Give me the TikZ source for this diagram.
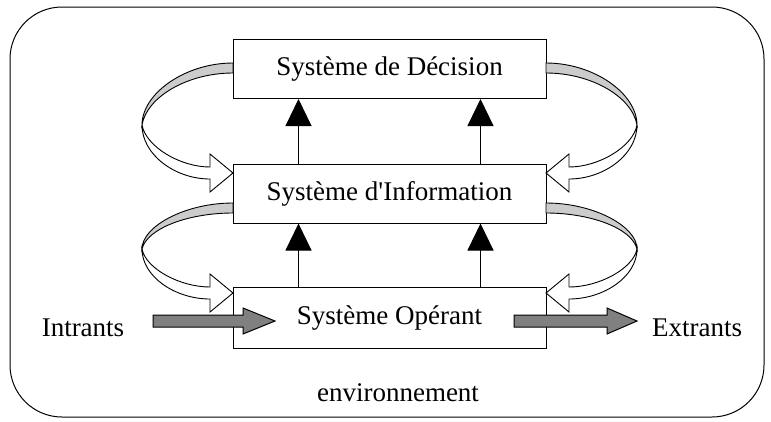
\documentclass[tikz,border=0pt]{standalone}
\usepackage{fontspec}
\setmainfont{Liberation Serif}[Ligatures=TeXOff]
\usetikzlibrary{arrows.meta}
\newcommand\ribbonloop[3]{%
  \draw[line width=0.9pt,fill=gray!40] (233,#1-5) .. controls (185,#1-5) and (142,{#3-0.55*(#3-#1)}) .. (142,#3) .. controls (147,{#3-0.5*(#3-#1)}) and (188,#1+5) .. (233,#1+5) -- cycle;
  \draw[line width=0.9pt,fill=white] (142,#3) .. controls (142,{#3+0.55*(#2+6-#3)}) and (175,#2+6) .. (210,#2+6) -- (210,#2+19) -- (233,#2) -- (210,#2-19) -- (210,#2-6) .. controls (180,#2-6) and (146,{#3+0.45*(#2-#3)}) .. (142,#3) -- cycle;
}
\begin{document}
\begin{tikzpicture}[x=1pt,y=-1pt,
  sysbox/.style={draw,line width=1pt,minimum width=313pt,minimum height=59pt,inner sep=0pt,font=\fontsize{27}{32}\selectfont},
  lbl/.style={font=\fontsize{27}{32}\selectfont,inner sep=0pt},
  uparrow/.style={line width=1pt,-{Triangle[length=27pt,width=26pt]}},
  flowarrow/.style={draw,line width=1pt,fill=gray}]
\useasboundingbox (0,0) rectangle (771,421);
\draw[line width=1pt,rounded corners=52pt] (10,7) rectangle (764,417);
\node[sysbox] (dec) at (389.5,69) {Système de Décision};
\node[sysbox] (info) at (389.5,193.5) {Système d'Information};
\node[sysbox,minimum height=61pt] (op) at (389.5,318) {Système Opérant};
\node[lbl] (in) at (83,328) {Intrants};
\node[lbl] (out) at (697,328) {Extrants};
\node[lbl] (env) at (398,393) {environnement};
\draw[uparrow] ([xshift=-91pt]info.north) -- ([xshift=-91pt]dec.south);
\draw[uparrow] ([xshift=91pt]info.north) -- ([xshift=91pt]dec.south);
\draw[uparrow] ([xshift=-91pt]op.north) -- ([xshift=-91pt]info.south);
\draw[uparrow] ([xshift=91pt]op.north) -- ([xshift=91pt]info.south);
\ribbonloop{68}{173}{125}
\ribbonloop{208}{293}{249}
\begin{scope}[shift={(779,0)},xscale=-1]
\ribbonloop{68}{173}{125}
\ribbonloop{208}{293}{249}
\end{scope}
\draw[flowarrow] (153,315) -- (243,315) -- (243,308) -- (275,321) -- (243,334) -- (243,327) -- (153,327) -- cycle;
\draw[flowarrow] (514,315) -- (607,315) -- (607,308) -- (637,321) -- (607,334) -- (607,327) -- (514,327) -- cycle;
\end{tikzpicture}
\end{document}
